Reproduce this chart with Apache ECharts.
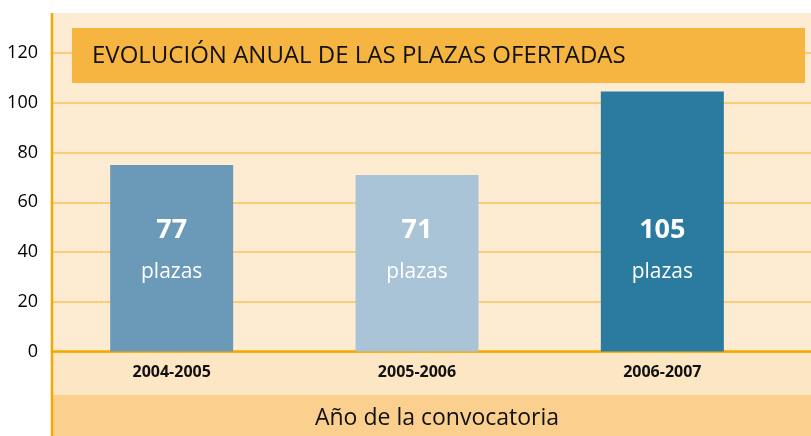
<!DOCTYPE html>
<html>
<head>
<meta charset="utf-8">
<script src="https://cdn.jsdelivr.net/npm/echarts@6/dist/echarts.min.js"></script>
<style>
  html, body { margin: 0; padding: 0; background: #fff; }
  #chart-container { width: 811px; height: 436px; }
</style>
</head>
<body>
<div id="chart-container"></div>
<script>
const categories = ['2004-2005', '2005-2006', '2006-2007'];
// bar heights as drawn, and the numbers printed on them
const barValues = [75, 71, 104.5];
const labelValues = [77, 71, 105];
const barColors = ['#6b9ab9', '#a9c3d7', '#2b7aa0'];
const yTicks = { min: 0, max: 120, interval: 20 };

const titleText = 'EVOLUCIÓN ANUAL DE LAS PLAZAS OFERTADAS';
const axisTitle = 'Año de la convocatoria';
const font = '"Open Sans", "Noto Sans", sans-serif';

const start = () => {
  const chartDom = document.getElementById('chart-container');
  const myChart = echarts.init(chartDom, null, { renderer: 'canvas' });

  const option = {
    animation: false,
    backgroundColor: '#ffffff',
    graphic: [
      // panel backgrounds
      { type: 'rect', z: -10, shape: { x: 52, y: 13, width: 759, height: 339 }, style: { fill: '#fdebd2' } },
      { type: 'rect', z: -10, shape: { x: 52, y: 352, width: 759, height: 43 }, style: { fill: '#fde6c4' } },
      { type: 'rect', z: -10, shape: { x: 52, y: 395, width: 759, height: 41 }, style: { fill: '#fbd08e' } },
      { type: 'line', z: 50, shape: { x1: 52, y1: 13, x2: 52, y2: 436 }, style: { stroke: '#f5a800', lineWidth: 2.5 } },
      // title box
      { type: 'rect', z: 20, shape: { x: 72, y: 28, width: 733, height: 55 }, style: { fill: '#f6b541' } },
      {
        type: 'text', z: 21, x: 92, y: 56,
        style: { text: titleText, fill: '#111', font: '24px ' + font, textVerticalAlign: 'middle' }
      },
      {
        type: 'text', z: 21, x: 437, y: 418,
        style: { text: axisTitle, fill: '#111', font: '23px ' + font, textAlign: 'center', textVerticalAlign: 'middle' }
      }
    ],
    grid: [
      { left: 52, right: 0, top: 53, bottom: 84.5 },
      { left: 49, right: 26, top: 53, bottom: 84.5 }
    ],
    xAxis: [
      {
        gridIndex: 0, type: 'value', min: 0, max: 1,
        axisLine: { show: true, lineStyle: { color: '#f5a800', width: 2.5 } },
        axisTick: { show: false }, axisLabel: { show: false }, splitLine: { show: false }
      },
      {
        gridIndex: 1, type: 'category', data: categories,
        axisLine: { show: false }, axisTick: { show: false },
        axisLabel: { margin: 13, color: '#111', fontWeight: 'bold', fontSize: 16, fontFamily: font }
      }
    ],
    yAxis: [
      {
        gridIndex: 0, type: 'value', min: yTicks.min, max: yTicks.max, interval: yTicks.interval,
        axisLine: { show: false }, axisTick: { show: false },
        axisLabel: { show: true, margin: 14, color: '#000', fontSize: 18, fontFamily: font },
        splitLine: { show: true, lineStyle: { color: '#f9c35c', width: 1.5 } }
      },
      {
        gridIndex: 1, type: 'value', min: yTicks.min, max: yTicks.max, interval: yTicks.interval,
        show: false
      }
    ],
    series: [
      {
        type: 'bar',
        xAxisIndex: 1, yAxisIndex: 1,
        barWidth: 123,
        data: barValues.map((v, i) => ({ value: v, itemStyle: { color: barColors[i] } })),
        label: {
          show: true,
          position: 'insideBottom',
          distance: 58,
          formatter: (p) => '{a|' + labelValues[p.dataIndex] + '}\n{b|plazas}',
          rich: {
            a: { color: '#fff', fontWeight: 'bold', fontSize: 27, lineHeight: 42, fontFamily: font },
            b: { color: '#fff', fontSize: 21, lineHeight: 42, fontFamily: font }
          }
        }
      }
    ]
  };
  myChart.setOption(option);
};

start();
</script>
</body>
</html>
